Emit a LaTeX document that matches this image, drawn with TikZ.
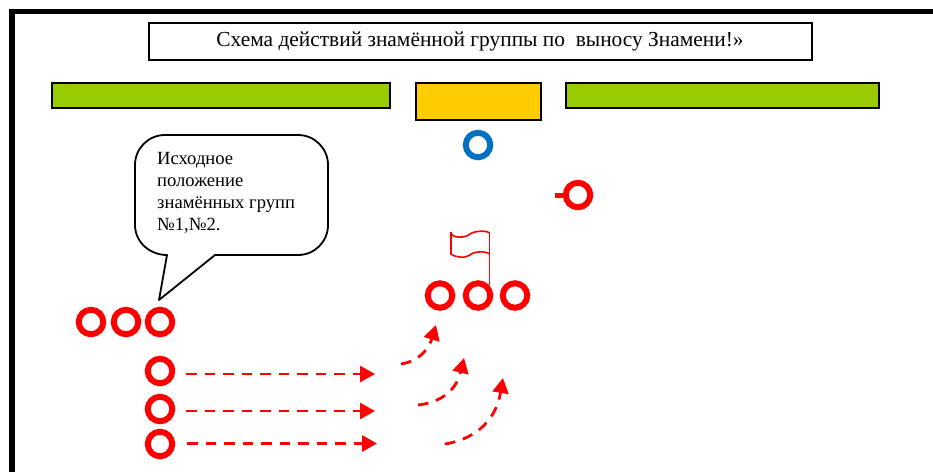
\documentclass[tikz,border=0pt]{standalone}
\usepackage{fontspec}
\setmainfont{Liberation Serif}
\usetikzlibrary{arrows.meta}

\definecolor{barGreen}{HTML}{99CC00}
\definecolor{barOrange}{HTML}{FFCC00}
\definecolor{ringBlue}{HTML}{0070C0}

\tikzset{
  ring/.style    = {circle, draw = #1, line width = 6pt, minimum size = 24.5pt, inner sep = 0pt},
  ring/.default  = red,
  bar/.style     = {draw, line width = 2pt, anchor = north west, inner sep = 0pt, outer sep = 0pt},
  march/.style   = {red, line width = 2.8pt, dash pattern = on 10.5pt off 8pt, -{Triangle[length = 15pt, width = 16pt]}},
}

\begin{document}
\begin{tikzpicture}[x = 1pt, y = -1pt]
\useasboundingbox (0, 0) rectangle (933, 472);

% frame
\draw[line width = 5.5pt] (12, 472) -- (12, 11.7) -- (933, 11.7);

% title and bars
\node[bar, minimum width = 663pt, minimum height = 37pt, anchor = center] (title) at (480, 41.7)
  {\fontsize{21.4pt}{24pt}\selectfont Схема действий знамённой группы по \ выносу Знамени!»};
\node[bar, fill = barGreen, minimum width = 338.5pt, minimum height = 25pt] (barLeft) at (51.5, 82.5) {};
\node[bar, fill = barOrange, minimum width = 124.7pt, minimum height = 37.5pt] (barMid) at (415.8, 82.5) {};
\node[bar, fill = barGreen, minimum width = 313pt, minimum height = 25pt] (barRight) at (565.5, 82.5) {};

% speech bubble
\draw[line width = 1.8pt, line join = round]
  (165, 135) -- (298, 135) to[out = 0, in = 90] (328, 165) -- (328, 225)
  to[out = 270, in = 0] (298, 255) -- (215, 255) -- (159, 300) -- (167, 255)
  to[out = 180, in = 270] (135, 225) -- (135, 165) to[out = 90, in = 180] (165, 135) -- cycle;
\node[anchor = north west, align = left, inner sep = 0pt, font = \fontsize{18.6pt}{22pt}\selectfont] (bubbleText) at (157, 152)
  {Исходное\\положение\\знамённых групп\\№1,№2.};

% single rings
\node[ring = ringBlue] (chief) at (478, 145) {};
\coordinate (leaderTick) at (555, 195);
\node[ring] (leader) at (578, 195) {};
\draw[red, line width = 5pt] (leaderTick) -- (leader);

% flag group
\node[ring] (flagA) at (440, 295.5) {};
\node[ring] (flagB) at (478, 295.5) {};
\node[ring] (flagC) at (515, 295.5) {};
\coordinate (poleTop) at (489.5, 233);
\coordinate (poleFoot) at (489.5, 285);
\draw[red, line width = 1.6pt] (poleFoot) -- (poleTop);
\draw[red, line width = 1.6pt]
  (451, 232) .. controls (451, 239) and (466, 238) .. (470, 234)
  .. controls (474, 231) and (486, 230) .. (poleTop)
  (451, 232) -- (451, 254)
  .. controls (456, 258) and (466, 258) .. (470, 255)
  .. controls (474, 251) and (486, 251) .. (489.5, 254);

% start positions
\foreach \name/\px in {startA/91, startB/126, startC/160}
  \node[ring] (\name) at (\px, 322) {};

\foreach \name/\py in {colA/371, colB/409, colC/444}
  \node[ring] (\name) at (160, \py) {};

% straight moves
\foreach \name/\py/\xa/\xb in {A/374/186/375, B/411/186/375, C/443.5/187/377} {
  \coordinate (from\name) at (\xa, \py);
  \coordinate (to\name) at (\xb, \py);
  \draw[march] (from\name) -- (to\name);
}

% curved moves
\coordinate (bendA) at (401, 364);
\coordinate (tipA) at (436, 325);
\coordinate (bendB) at (418, 405);
\coordinate (tipB) at (464, 358);
\coordinate (bendC) at (445, 444);
\coordinate (tipC) at (503, 378);
\draw[march] (bendA) .. controls (420, 361) and (429, 348) .. (tipA);
\draw[march] (bendB) .. controls (435, 403) and (455, 395) .. (tipB);
\draw[march] (bendC) .. controls (470, 440) and (495, 425) .. (tipC);

\end{tikzpicture}
\end{document}
